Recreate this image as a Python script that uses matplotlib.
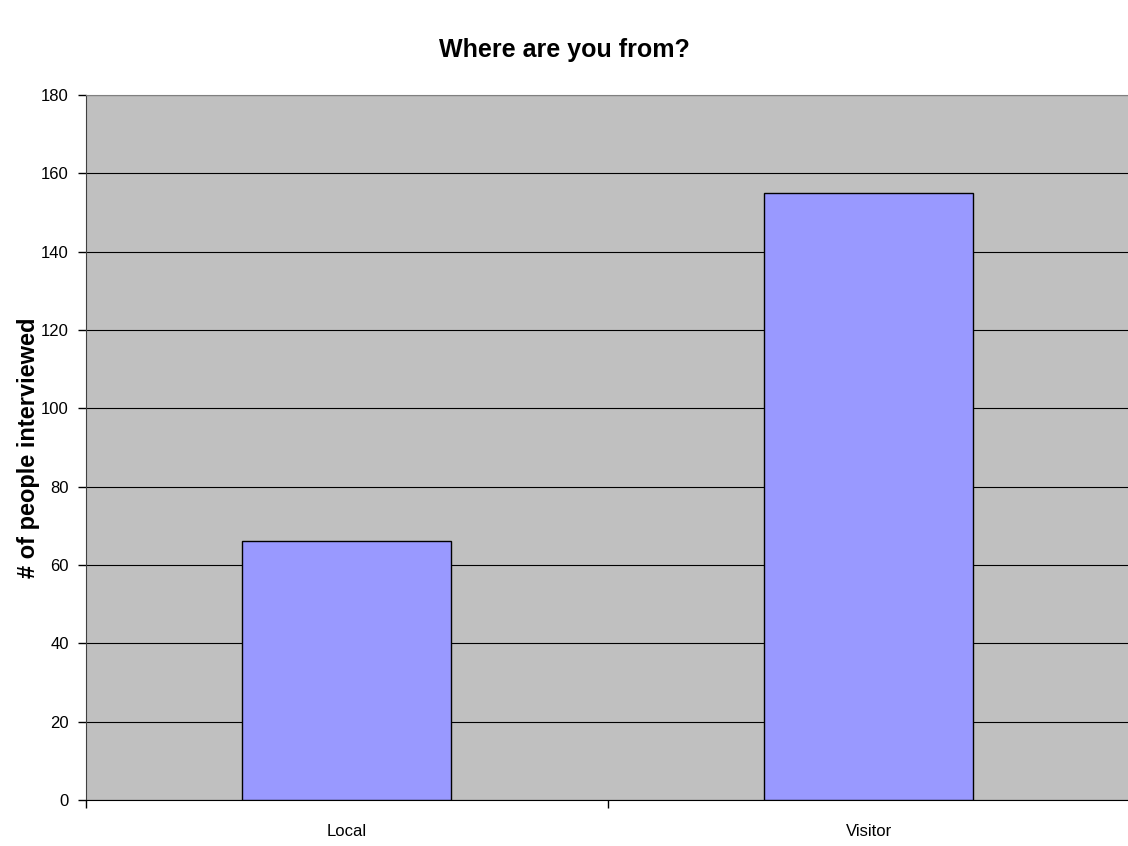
import matplotlib.pyplot as plt
from matplotlib.ticker import FixedLocator

# Survey responses
categories = ['Local', 'Visitor']
counts = [66, 155]
y_ticks = [0, 20, 40, 60, 80, 100, 120, 140, 160, 180]

plt.rcParams['font.family'] = ['Liberation Sans', 'DejaVu Sans']

fig = plt.figure(figsize=(11.28, 8.46), dpi=100)
ax = fig.add_axes([0.0758, 0.0544, 0.926, 0.8333])
ax.set_facecolor('#C0C0C0')

x = list(range(len(categories)))
ax.bar(x, counts, width=0.4, color='#9999FF', edgecolor='black', linewidth=1, zorder=3)

ax.set_xlim(-0.5, len(categories) - 0.5)
ax.set_ylim(0, 180)
ax.set_yticks(y_ticks)
ax.yaxis.grid(True, color='black', linewidth=0.8, zorder=1)
ax.set_axisbelow(True)

ax.set_xticks(x)
ax.set_xticklabels(categories, fontsize=12)
ax.tick_params(axis='x', which='major', length=0, pad=17)
ax.xaxis.set_minor_locator(FixedLocator([-0.5, 0.5, 1.5]))
ax.tick_params(axis='x', which='minor', length=6, width=1, direction='out')
ax.tick_params(axis='y', labelsize=12, length=6, width=1, direction='out', pad=6)

ax.spines['right'].set_visible(False)
ax.spines['top'].set_color('#808080')
ax.spines['left'].set_color('#404040')
ax.spines['bottom'].set_color('black')

ax.set_ylabel('# of people interviewed', fontsize=17, fontweight='bold', labelpad=1)
fig.suptitle('Where are you from?', fontsize=18, fontweight='bold', y=0.955)

plt.savefig('out.png', dpi=100)
